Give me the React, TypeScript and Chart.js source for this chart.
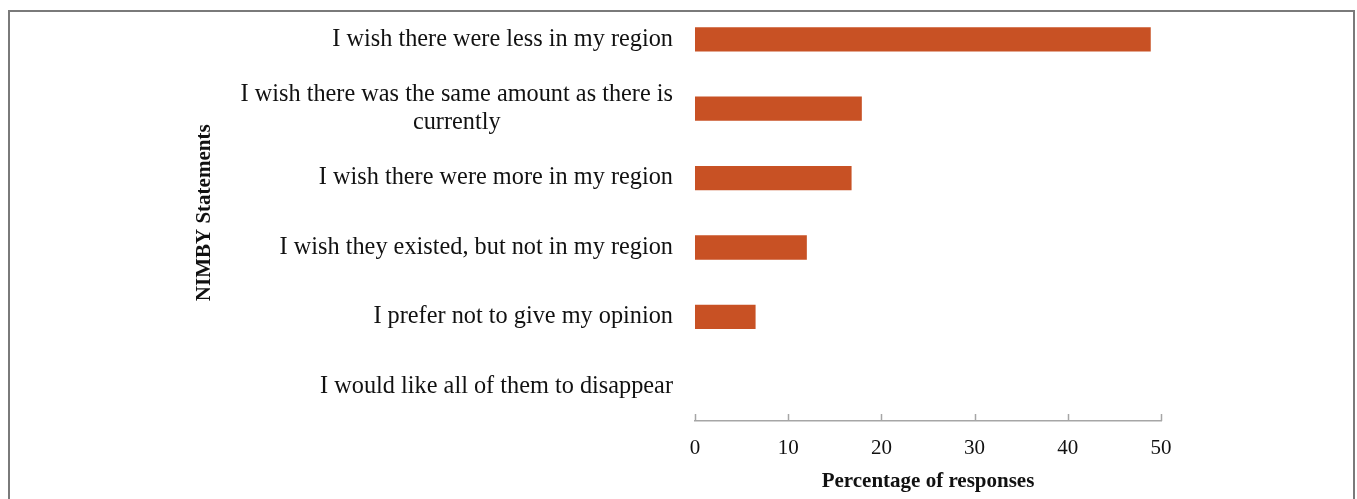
import React, { useEffect, useRef } from "react";
import { Chart, registerables } from "chart.js";

Chart.register(...registerables);

const categories: string[][] = [
  ["I wish there were less in my region"],
  ["I wish there was the same amount as there is", "currently"],
  ["I wish there were more in my region"],
  ["I wish they existed, but not in my region"],
  ["I prefer not to give my opinion"],
  ["I would like all of them to disappear"],
];
const values: number[] = [48.9, 17.9, 16.8, 12.0, 6.5, 0];
const xTicks: number[] = [0, 10, 20, 30, 40, 50];

const FONT = "'Liberation Serif', 'Times New Roman', Times, serif";

const yLabelPlugin = {
  id: "yLabels",
  afterDraw(chart: any) {
    const { ctx } = chart;
    const y = chart.scales.y;
    const x = chart.scales.x;
    ctx.save();
    ctx.font = `24.3px ${FONT}`;
    ctx.fillStyle = "#111111";
    ctx.textBaseline = "middle";
    const rightX = chart.chartArea.left - 22;
    categories.forEach((lines, i) => {
      const cy = y.getPixelForValue(i);
      const lh = 28;
      if (lines.length === 1) {
        ctx.textAlign = "right";
        ctx.fillText(lines[0], rightX, cy);
      } else {
        const maxW = Math.max(...lines.map((l) => ctx.measureText(l).width));
        const cx = rightX - maxW / 2;
        ctx.textAlign = "center";
        lines.forEach((l, k) => {
          ctx.fillText(l, cx, cy + (k - (lines.length - 1) / 2) * lh);
        });
      }
    });
    ctx.strokeStyle = "#a6a6a6";
    ctx.lineWidth = 1.5;
    const by = chart.chartArea.bottom;
    xTicks.forEach((t) => {
      const px = Math.round(x.getPixelForValue(t)) + 0.5;
      ctx.beginPath();
      ctx.moveTo(px, by - 7);
      ctx.lineTo(px, by);
      ctx.stroke();
    });
    ctx.restore();
  },
};

export default function App() {
  const ref = useRef<HTMLCanvasElement | null>(null);
  useEffect(() => {
    if (!ref.current) return;
    Chart.defaults.font.family = FONT;
    const chart = new Chart(ref.current, {
      type: "bar",
      data: {
        labels: categories.map((c) => c.join(" ")),
        datasets: [
          {
            data: values,
            backgroundColor: "#c85124",
            borderWidth: 0,
            barPercentage: 0.35,
            categoryPercentage: 1,
          },
        ],
      },
      options: {
        indexAxis: "y",
        responsive: false,
        animation: false,
        events: [],
        layout: { padding: { top: 4.6, right: 196, left: 188.4, bottom: 0 } },
        plugins: {
          legend: { display: false },
          tooltip: { enabled: false },
        },
        scales: {
          x: {
            min: 0,
            max: 50,
            afterBuildTicks: (s: any) => {
              s.ticks = xTicks.map((v) => ({ value: v }));
            },
            afterFit: (s: any) => {
              s.height = 78;
            },
            grid: { display: false, drawTicks: false },
            border: { display: true, color: "#a6a6a6", width: 1.5 },
            ticks: {
              padding: 15,
              color: "#111111",
              font: { size: 21, family: FONT },
              maxRotation: 0,
            },
            title: {
              display: true,
              text: "Percentage of responses",
              color: "#111111",
              font: { size: 21, weight: "bold", family: FONT },
              padding: { top: 7, bottom: 5 },
            },
          },
          y: {
            afterFit: (s: any) => {
              s.width = 506.6;
            },
            grid: { display: false, drawTicks: false },
            border: { display: false },
            ticks: { display: false },
            title: {
              display: true,
              text: "NIMBY Statements",
              color: "#111111",
              font: { size: 21, weight: "bold", family: FONT },
              padding: { top: 4, bottom: 0 },
            },
          },
        },
      },
      plugins: [yLabelPlugin],
    });
    return () => chart.destroy();
  }, []);

  return (
    <div>
      <canvas
        ref={ref}
        width={1357}
        height={499}
        style={{ position: "fixed", left: 0, top: 0, width: 1357, height: 499 }}
      />
      <div
        style={{
          position: "fixed",
          left: 8,
          top: 10,
          width: 1347,
          height: 600,
          border: "2px solid #7a7a7a",
          boxSizing: "border-box",
          pointerEvents: "none",
        }}
      />
    </div>
  );
}
